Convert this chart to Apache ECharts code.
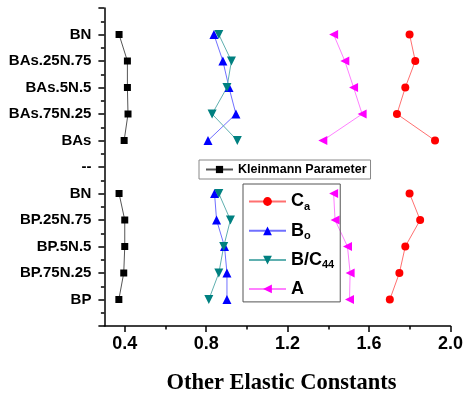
<!DOCTYPE html>
<html>
<head>
<meta charset="utf-8">
<script src="https://cdn.jsdelivr.net/npm/echarts@6/dist/echarts.min.js"></script>
<style>
  html, body { margin: 0; padding: 0; background: #fff; }
  #chart { width: 466px; height: 400px; }
</style>
</head>
<body>
<div id="chart"></div>
<script>
// Compositions along the vertical axis, bottom to top ('--' separates the two alloy families)
const categories = ['BP', 'BP.75N.25', 'BP.5N.5', 'BP.25N.75', 'BN', '--',
                    'BAs', 'BAs.75N.25', 'BAs.5N.5', 'BAs.25N.75', 'BN'];

// Elastic quantities for each composition (null at the separator)
const kleinmann = [0.371, 0.395, 0.400, 0.400, 0.372, null, 0.397, 0.416, 0.413, 0.413, 0.372];
const ca        = [1.702, 1.749, 1.778, 1.851, 1.799, null, 1.924, 1.737, 1.778, 1.827, 1.799];
const bo        = [0.902, 0.902, 0.890, 0.851, 0.841, null, 0.809, 0.946, 0.912, 0.882, 0.838];
const bc44      = [0.813, 0.862, 0.886, 0.919, 0.862, null, 0.953, 0.829, 0.902, 0.924, 0.862];
const aniso     = [1.504, 1.507, 1.494, 1.433, 1.426, null, 1.373, 1.566, 1.524, 1.481, 1.426];

// Horizontal axis ticks
const xMajorTicks = [0.4, 0.8, 1.2, 1.6, 2.0];
const xMinorTicks = [0.6, 1.0, 1.4, 1.8];

const toPoints = vals => vals.map((v, i) => (v == null ? ['-', i + 1] : [v, i + 1]));

const SANS = '"Liberation Sans", Arial, sans-serif';
const SERIF = '"Liberation Serif", "Times New Roman", serif';

function lineSeries(name, vals, symbol, size, rotate, markColor, lineColor) {
  return {
    name: name,
    type: 'line',
    data: toPoints(vals),
    connectNulls: false,
    symbol: symbol,
    symbolSize: size,
    symbolRotate: rotate,
    showAllSymbol: true,
    itemStyle: { color: markColor },
    lineStyle: { color: lineColor, width: 1 },
    emphasis: { disabled: true },
    animation: false
  };
}

const legendNames = {
  'Ca': '{m|C}{s|a}',
  'Bo': '{m|B}{s|o}',
  'B/C44': '{m|B/C}{s|44}',
  'A': '{m|A}'
};

const axisLineStyle = { color: '#000', width: 1.5 };

const option = {
  backgroundColor: '#fff',
  animation: false,
  grid: { left: 104.4, right: 12, top: 8, bottom: 70, containLabel: false },
  xAxis: [
    {
      type: 'value', min: 0.3, max: 2.0, position: 'bottom',
      splitLine: { show: false },
      axisLine: { show: true, lineStyle: axisLineStyle },
      axisTick: { show: true, inside: false, length: 6, customValues: xMajorTicks, lineStyle: axisLineStyle },
      axisLabel: {
        customValues: xMajorTicks, margin: 9,
        fontFamily: SANS, fontWeight: 'bold', fontSize: 18, color: '#000',
        formatter: v => v.toFixed(1)
      },
      name: 'Other Elastic Constants', nameLocation: 'middle', nameGap: 46,
      nameTextStyle: { fontFamily: SERIF, fontWeight: 'bold', fontSize: 22.5, color: '#000', padding: [0, 0, 0, 8] }
    },
    {
      type: 'value', min: 0.3, max: 2.0, position: 'bottom',
      splitLine: { show: false },
      axisLine: { show: false },
      axisTick: { show: true, inside: false, length: 3.5, customValues: xMinorTicks, lineStyle: axisLineStyle },
      axisLabel: { show: false }
    }
  ],
  yAxis: [
    {
      type: 'value', min: 0, max: 12, interval: 1, position: 'left',
      splitLine: { show: false },
      axisLine: { show: true, lineStyle: axisLineStyle },
      axisTick: { show: true, inside: false, length: 6, lineStyle: axisLineStyle },
      axisLabel: {
        margin: 13, fontFamily: SANS, fontWeight: 'bold', fontSize: 15, color: '#000',
        formatter: v => (v >= 1 && v <= categories.length ? categories[v - 1] : '')
      }
    },
    {
      type: 'value', min: 0, max: 12, interval: 0.5, position: 'left',
      splitLine: { show: false },
      axisLine: { show: false },
      axisTick: { show: true, inside: false, length: 3.5, lineStyle: axisLineStyle },
      axisLabel: { show: false }
    }
  ],
  legend: [
    {
      data: ['Kleinmann Parameter'],
      left: 199, top: 160,
      padding: [3, 4, 3, 6],
      itemWidth: 27, itemHeight: 9,
      borderColor: '#888', borderWidth: 1,
      selectedMode: false,
      textStyle: { fontFamily: SANS, fontWeight: 'bold', fontSize: 12.5, color: '#000' }
    },
    {
      data: ['Ca', 'Bo', 'B/C44', 'A'],
      orient: 'vertical',
      left: 243, top: 184,
      padding: [7, 6, 3, 5],
      itemWidth: 37, itemHeight: 11, itemGap: 8.3,
      borderColor: '#555', borderWidth: 1,
      selectedMode: false,
      formatter: name => legendNames[name] || name,
      textStyle: {
        fontFamily: SANS, fontWeight: 'bold', fontSize: 18, color: '#000', lineHeight: 20,
        rich: {
          m: { fontFamily: SANS, fontWeight: 'bold', fontSize: 18, color: '#000', lineHeight: 20 },
          s: { fontFamily: SANS, fontWeight: 'bold', fontSize: 11, color: '#000', lineHeight: 20, padding: [10, 0, 0, 0] }
        }
      }
    }
  ],
  series: [
    lineSeries('Kleinmann Parameter', kleinmann, 'rect', 7, 0, '#000', '#555'),
    lineSeries('Ca', ca, 'circle', 8, 0, '#ff0000', '#ff7070'),
    lineSeries('Bo', bo, 'triangle', 9, 0, '#0000ff', '#7070ff'),
    lineSeries('B/C44', bc44, 'triangle', 9, 180, '#008080', '#60b0b0'),
    lineSeries('A', aniso, 'triangle', 9, 90, '#ff00ff', '#ff80ff')
  ]
};

const chart = echarts.init(document.getElementById('chart'), null, { renderer: 'canvas' });
chart.setOption(option);
</script>
</body>
</html>
